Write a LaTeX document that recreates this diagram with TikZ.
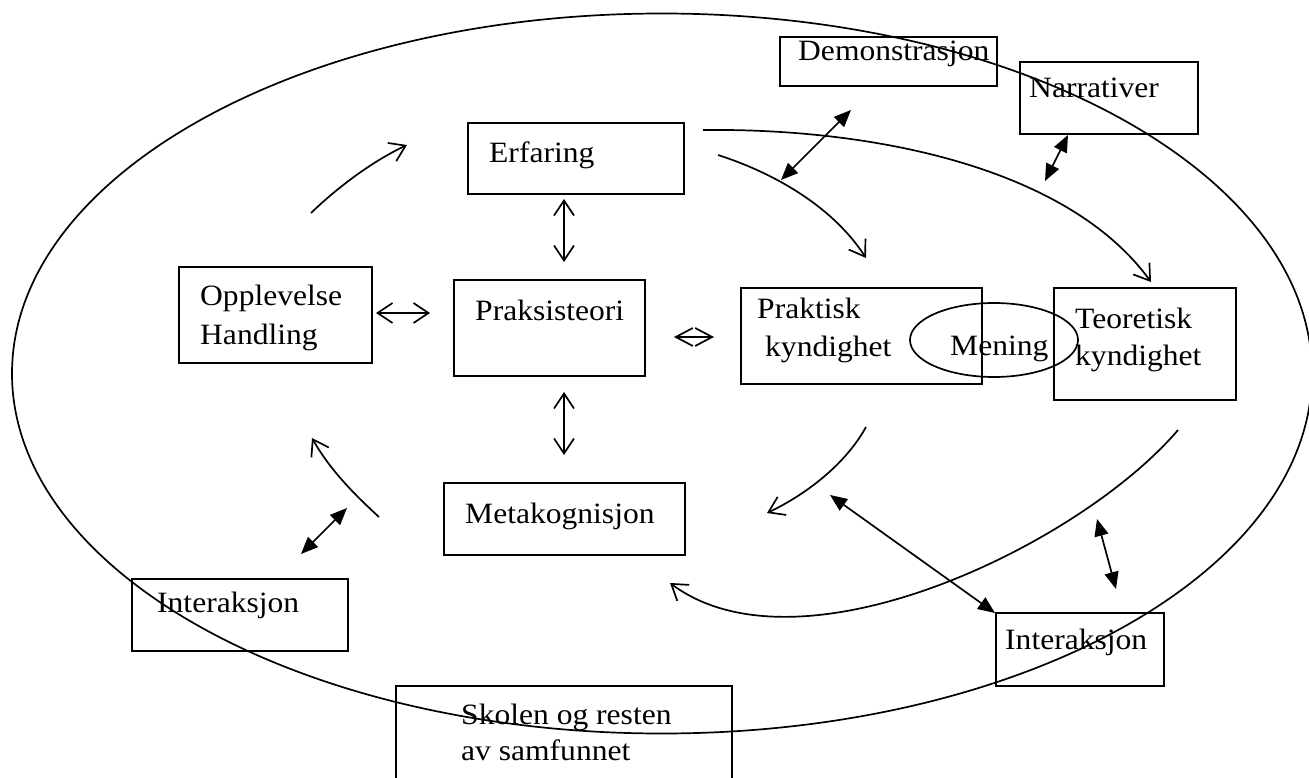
\documentclass[tikz,border=0pt]{standalone}
\usepackage{fontspec}
\setmainfont{Liberation Serif}[FakeStretch=1.07]
\usetikzlibrary{arrows.meta,shapes.geometric}
\begin{document}
\begin{tikzpicture}[x=1pt,y=-1pt,
  box/.style={draw,line width=2pt,anchor=north west,inner sep=0pt,outer sep=0pt},
  oval/.style={draw,ellipse,line width=1.7pt,inner sep=0pt,outer sep=0pt},
  lbl/.style={anchor=base west,inner sep=0pt,font=\fontsize{29.5}{35}\selectfont},
  conn/.style={line width=1.7pt},
  open2/.style={conn,{Straight Barb[length=15pt,width=20pt]}-{Straight Barb[length=15pt,width=20pt]}},
  open1/.style={conn,-{Straight Barb[length=15pt,width=20pt]}},
  solid2/.style={conn,{Triangle[length=17pt,width=14pt]}-{Triangle[length=17pt,width=14pt]}}]
\useasboundingbox (0,0) rectangle (1309,778);
\fill[white] (0,0) rectangle (1309,778);

% boxes
\node[box,minimum width=216pt,minimum height=71pt] (erf) at (468,123) {};
\node[box,minimum width=193pt,minimum height=96pt] (opp) at (179,267) {};
\node[box,minimum width=191pt,minimum height=96pt] (prak) at (454,280) {};
\node[box,minimum width=241pt,minimum height=96pt] (pk) at (741,288) {};
\node[box,minimum width=182pt,minimum height=112pt] (tk) at (1054,288) {};
\node[box,minimum width=217pt,minimum height=49pt] (dem) at (780,37) {};
\node[box,minimum width=178pt,minimum height=72pt] (nar) at (1020,62) {};
\node[box,minimum width=241pt,minimum height=72pt] (meta) at (444,483) {};
\node[box,minimum width=216pt,minimum height=72pt] (intl) at (132,579) {};
\node[box,minimum width=168pt,minimum height=73pt] (intr) at (996,613) {};
\node[box,minimum width=336pt,minimum height=110pt] (skol) at (396,686) {};

% ellipses
\node[oval,minimum width=1300pt,minimum height=720pt] (world) at (662,373.5) {};
\node[oval,minimum width=168pt,minimum height=74pt] (mening) at (994,340) {};

% labels
\node[lbl] (terf) at (489,163) {Erfaring};
\node[lbl] (topp1) at (200,305) {Opplevelse};
\node[lbl] (topp2) at (200,344) {Handling};
\node[lbl] (tprak) at (475,320) {Praksisteori};
\node[lbl] (tpk1) at (757,318) {Praktisk};
\node[lbl] (tpk2) at (765,356) {kyndighet};
\node[lbl] (tmen) at (950,355) {Mening};
\node[lbl] (ttk1) at (1075,328) {Teoretisk};
\node[lbl] (ttk2) at (1075,365) {kyndighet};
\node[lbl] (tdem) at (798,61) {Demonstrasjon};
\node[lbl] (tnar) at (1029,98) {Narrativer};
\node[lbl] (tmeta) at (465,523) {Metakognisjon};
\node[lbl] (tintl) at (157,612) {Interaksjon};
\node[lbl] (tintr) at (1005,649) {Interaksjon};
\node[lbl] (tsk1) at (461,724) {Skolen og resten};
\node[lbl] (tsk2) at (461,760) {av samfunnet};

% connector end points
\coordinate (a1) at (564,199);  \coordinate (a2) at (564,262);
\coordinate (b1) at (376,313);  \coordinate (b2) at (430,313);
\coordinate (c1) at (674,337);  \coordinate (c2) at (714,337);
\coordinate (d1) at (564,392);  \coordinate (d2) at (564,455);
\coordinate (e1) at (311,213);  \coordinate (e2) at (407,145);
\coordinate (f1) at (718,155);  \coordinate (f2) at (866,258);
\coordinate (g1) at (703,130);  \coordinate (g2) at (1151,282);
\coordinate (h1) at (866,427);  \coordinate (h2) at (767,513);
\coordinate (i1) at (1178,430); \coordinate (i2) at (670,583);
\coordinate (j1) at (379,517);  \coordinate (j2) at (312,438);
\coordinate (k1) at (851,110);  \coordinate (k2) at (781,180);
\coordinate (l1) at (1068,135); \coordinate (l2) at (1045,181);
\coordinate (m1) at (347,508);  \coordinate (m2) at (301,554);
\coordinate (n1) at (830,495);  \coordinate (n2) at (995,613);
\coordinate (o1) at (1097,519); \coordinate (o2) at (1116,589);

% open-headed connectors
\draw[open2] (a1) -- (a2);
\draw[open2] (b1) -- (b2);
\draw[conn,{Straight Barb[length=17pt,width=18pt]}-{Straight Barb[length=17pt,width=18pt]}] (c1) -- (c2);
\draw[open2] (d1) -- (d2);
\draw[open1] (e1) .. controls (340,185) and (375,160) .. (e2);
\draw[open1] (f1) .. controls (780,175) and (835,210) .. (f2);
\draw[open1] (g1) .. controls (880,128) and (1070,170) .. (g2);
\draw[open1] (h1) .. controls (845,465) and (805,495) .. (h2);
\draw[open1] (i1) .. controls (1080,545) and (800,680) .. (i2);
\draw[open1] (j1) .. controls (355,495) and (330,470) .. (j2);

% filled double arrows
\draw[solid2] (k1) -- (k2);
\draw[solid2] (l1) -- (l2);
\draw[solid2] (m1) -- (m2);
\draw[solid2] (n1) -- (n2);
\draw[solid2] (o1) -- (o2);
\end{tikzpicture}
\end{document}
